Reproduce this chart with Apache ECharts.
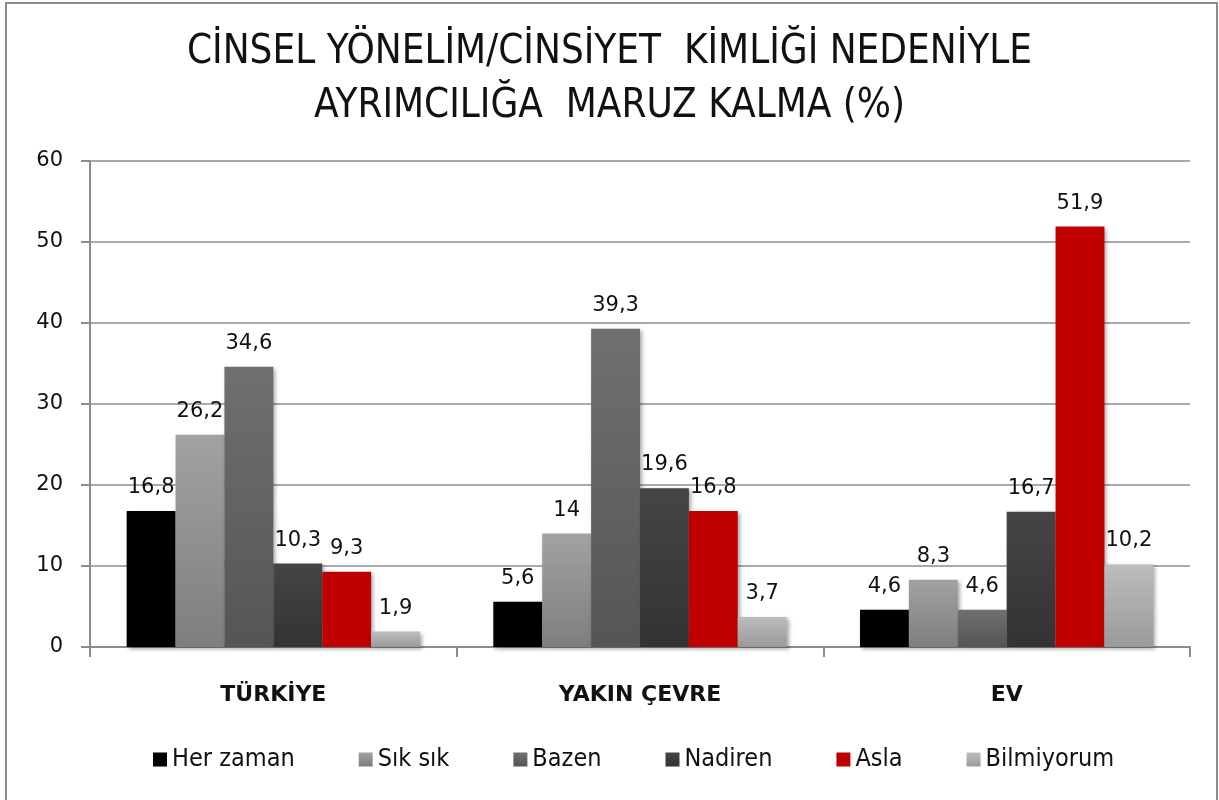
<!DOCTYPE html>
<html>
<head>
<meta charset="utf-8">
<script src="https://cdn.jsdelivr.net/npm/echarts@6/dist/echarts.min.js"></script>
<style>
html, body { margin: 0; padding: 0; background: #fff; }
#echarts { width: 1219px; height: 800px; }
</style>
</head>
<body>
<div id="echarts"></div>
<script>
var categories = ['TÜRKİYE', 'YAKIN ÇEVRE', 'EV'];
var seriesNames = ['Her zaman', 'Sık sık', 'Bazen', 'Nadiren', 'Asla', 'Bilmiyorum'];
var herZaman = [16.8, 5.6, 4.6];
var sikSik = [26.2, 14, 8.3];
var bazen = [34.6, 39.3, 4.6];
var nadiren = [10.3, 19.6, 16.7];
var asla = [9.3, 16.8, 51.9];
var bilmiyorum = [1.9, 3.7, 10.2];
var yTicks = [0, 10, 20, 30, 40, 50, 60];

var values = [herZaman, sikSik, bazen, nadiren, asla, bilmiyorum];
var colors = [
    ['#000000', '#000000'],
    ['#a2a2a2', '#7e7e7e'],
    ['#707070', '#555555'],
    ['#454545', '#333333'],
    ['#c00000', '#c00000'],
    ['#bdbdbd', '#9a9a9a']
];
var legendColors = ['#000000', '#8f8f8f', '#646464', '#3c3c3c', '#c00000', '#ababab'];

var font = '"DejaVu Sans", "Open Sans", sans-serif';
var condensed = '"DejaVu Sans Condensed", "Open Sans", sans-serif';

var myChart = echarts.init(document.getElementById('echarts'));

var series = [];
seriesNames.forEach(function (name, i) {
    series.push({
        name: name,
        type: 'bar',
        barGap: '0%',
        barCategoryGap: '20%',
        data: values[i],
        itemStyle: {
            color: new echarts.graphic.LinearGradient(0, 0, 0, 1, [
                { offset: 0, color: colors[i][0] },
                { offset: 1, color: colors[i][1] }
            ]),
            shadowColor: 'rgba(0,0,0,0.35)',
            shadowBlur: 4,
            shadowOffsetX: 2,
            shadowOffsetY: 2
        },
        label: {
            show: true,
            position: 'top',
            distance: 13,
            fontFamily: font,
            fontSize: 21,
            color: '#111',
            formatter: function (p) {
                return String(p.value).replace('.', ',');
            }
        }
    });
});

var option = {
    backgroundColor: '#fff',
    color: legendColors,
    graphic: [{
        type: 'rect',
        shape: { x: 6, y: 3, width: 1211, height: 800 },
        style: { fill: 'none', stroke: '#8c8c8c', lineWidth: 2 },
        silent: true
    }],
    title: {
        text: 'CİNSEL YÖNELİM/CİNSİYET  KİMLİĞİ NEDENİYLE\nAYRIMCILIĞA  MARUZ KALMA (%)',
        left: 'center',
        top: 21,
        textStyle: {
            fontFamily: condensed,
            fontWeight: 'normal',
            fontSize: 40,
            lineHeight: 54,
            color: '#111'
        }
    },
    legend: {
        bottom: 23,
        left: 148,
        itemWidth: 14,
        itemHeight: 14,
        itemGap: 64,
        icon: 'rect',
        textStyle: {
            fontFamily: condensed,
            fontSize: 25,
            color: '#111'
        },
        data: seriesNames
    },
    grid: {
        left: 90,
        right: 29,
        top: 161,
        bottom: 153,
        containLabel: false
    },
    xAxis: {
        type: 'category',
        data: categories,
        axisLine: { lineStyle: { color: '#8c8c8c', width: 2 } },
        axisTick: { show: true, length: 10, lineStyle: { color: '#8c8c8c', width: 2 } },
        axisLabel: {
            margin: 37,
            fontFamily: font,
            fontWeight: 'bold',
            fontSize: 22,
            color: '#111'
        }
    },
    yAxis: {
        type: 'value',
        min: yTicks[0],
        max: yTicks[yTicks.length - 1],
        interval: 10,
        axisLine: { show: true, lineStyle: { color: '#8c8c8c', width: 2 } },
        axisTick: { show: true, length: 9, lineStyle: { color: '#8c8c8c', width: 2 } },
        splitLine: { lineStyle: { color: '#8c8c8c', width: 1.5 } },
        axisLabel: {
            margin: 27,
            fontFamily: font,
            fontSize: 21,
            color: '#111'
        }
    },
    series: series
};

myChart.setOption(option);
</script>
</body>
</html>
